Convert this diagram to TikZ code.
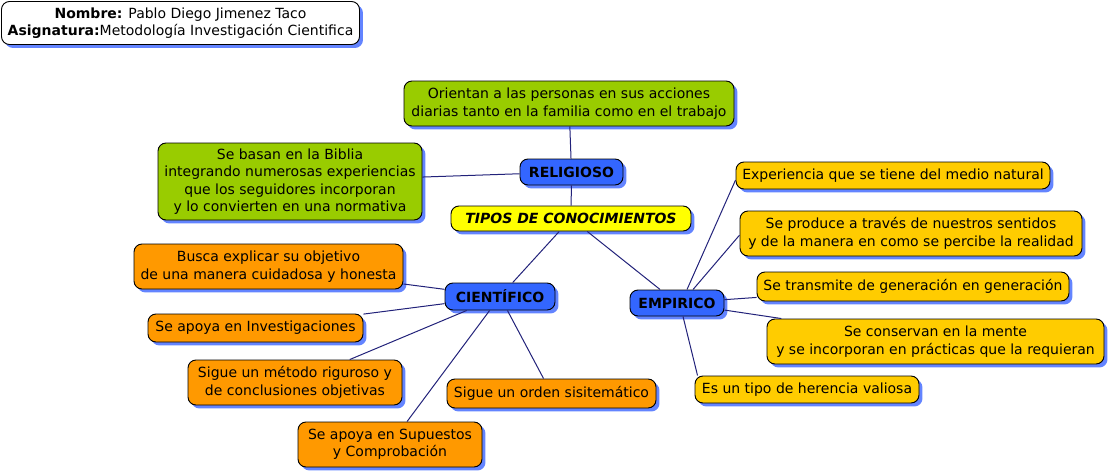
\documentclass[tikz,border=0pt]{standalone}
\usepackage{fontspec}
\setmainfont{DejaVu Sans}
\usetikzlibrary{shadows}
\definecolor{cgreen}{HTML}{99CC00}
\definecolor{corange}{HTML}{FF9900}
\definecolor{cgold}{HTML}{FFCC00}
\definecolor{cblue}{HTML}{3366FF}
\definecolor{cyellow}{HTML}{FFFF00}
\definecolor{cline}{HTML}{22227A}
\definecolor{cshadow}{HTML}{2F5BFF}
\tikzset{
  basebox/.style={draw=black, line width=0.7pt, rounded corners=6pt, align=center,
    inner sep=0pt, font=\fontsize{10.5pt}{13pt}\selectfont,
    drop shadow={shadow xshift=2.6pt, shadow yshift=-2.6pt, fill=cshadow, opacity=0.75}},
  greenbox/.style={basebox, fill=cgreen},
  orangebox/.style={basebox, fill=corange},
  goldbox/.style={basebox, fill=cgold},
  bluebox/.style={basebox, fill=cblue, font=\fontsize{10.5pt}{13pt}\selectfont\bfseries},
  titlebox/.style={basebox, fill=cyellow, font=\fontsize{10.5pt}{13pt}\selectfont\bfseries\itshape},
  headbox/.style={basebox, fill=white},
  conn/.style={draw=cline, line width=0.75pt},
}
\begin{document}
\begin{tikzpicture}[x=0.75pt,y=-0.75pt]
\useasboundingbox (0,0) rectangle (1113,475);
% header
\node[headbox, minimum width={358*0.75pt}, minimum height={43*0.75pt}] (head) at (180.5,23)
  {\textbf{Nombre:} Pablo Diego Jimenez Taco\\\textbf{Asignatura:}Metodología Investigación Cientifica};
% religioso branch
\node[greenbox, minimum width={330*0.75pt}, minimum height={45*0.75pt}] (orient) at (569,103.5)
  {Orientan a las personas en sus acciones\\diarias tanto en la familia como en el trabajo};
\node[greenbox, minimum width={264*0.75pt}, minimum height={77*0.75pt}] (biblia) at (290,181.5)
  {Se basan en la Biblia\\integrando numerosas experiencias\\que los seguidores incorporan\\y lo convierten en una normativa};
\node[bluebox, minimum width={103*0.75pt}, minimum height={26*0.75pt}] (relig) at (571.5,172) {RELIGIOSO};
\node[titlebox, minimum width={240*0.75pt}, minimum height={25*0.75pt}] (tipos) at (571,218.5) {TIPOS DE CONOCIMIENTOS};
% cientifico branch
\node[bluebox, minimum width={110*0.75pt}, minimum height={27*0.75pt}] (cien) at (500,296.5) {CIENTÍFICO};
\node[orangebox, minimum width={269*0.75pt}, minimum height={45*0.75pt}] (busca) at (268.5,266.5)
  {Busca explicar su objetivo\\de una manera cuidadosa y honesta};
\node[orangebox, minimum width={215*0.75pt}, minimum height={28*0.75pt}] (invest) at (255.5,328)
  {Se apoya en Investigaciones};
\node[orangebox, minimum width={214*0.75pt}, minimum height={45*0.75pt}] (metodo) at (295,382.5)
  {Sigue un método riguroso y\\de conclusiones objetivas};
\node[orangebox, minimum width={209*0.75pt}, minimum height={29*0.75pt}] (orden) at (551.5,393.5)
  {Sigue un orden sisitemático};
\node[orangebox, minimum width={184*0.75pt}, minimum height={45*0.75pt}] (supu) at (390,444.5)
  {Se apoya en Supuestos\\y Comprobación};
% empirico branch
\node[bluebox, minimum width={94*0.75pt}, minimum height={26*0.75pt}] (empi) at (677,303) {EMPIRICO};
\node[goldbox, minimum width={314*0.75pt}, minimum height={27*0.75pt}] (exper) at (893,175.5)
  {Experiencia que se tiene del medio natural};
\node[goldbox, minimum width={342*0.75pt}, minimum height={45*0.75pt}] (produce) at (911,233.5)
  {Se produce a través de nuestros sentidos\\y de la manera en como se percibe la realidad};
\node[goldbox, minimum width={312*0.75pt}, minimum height={29*0.75pt}] (transm) at (913,286.5)
  {Se transmite de generación en generación};
\node[goldbox, minimum width={337*0.75pt}, minimum height={45*0.75pt}] (conserv) at (935.5,341.5)
  {Se conservan en la mente\\y se incorporan en prácticas que la requieran};
\node[goldbox, minimum width={224*0.75pt}, minimum height={27*0.75pt}] (herencia) at (807,389.5)
  {Es un tipo de herencia valiosa};
% connectors
\path[conn] (orient) -- (relig);
\path[conn] (biblia) -- (relig);
\path[conn] (relig) -- (tipos);
\path[conn] (tipos) -- (cien);
\path[conn] (tipos) -- (empi);
\path[conn] (busca) -- (cien);
\path[conn] (invest) -- (cien);
\path[conn] (metodo) -- (cien);
\path[conn] (supu) -- (cien);
\path[conn] (orden) -- (cien);
\path[conn] ([xshift=7.5pt]empi.north) -- ([yshift=-3.4pt]exper.west);
\path[conn] ([xshift=12pt]empi.north) -- ([yshift=-1.2pt]produce.west);
\path[conn] (empi) -- (transm);
\path[conn] (empi) -- (conserv);
\path[conn] ([xshift=4.5pt]empi.south) -- ([xshift=2.25pt]herencia.north west);
\end{tikzpicture}
\end{document}
